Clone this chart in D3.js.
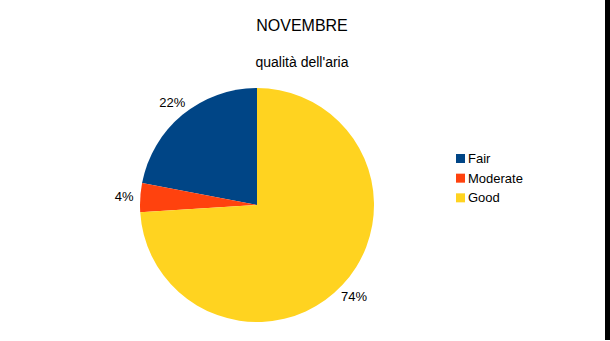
<!DOCTYPE html>
<html>
<head>
<meta charset="utf-8">
<script src="https://cdn.jsdelivr.net/npm/d3@7"></script>
<style>
  body { margin: 0; background: #fff; }
  text { font-family: "Liberation Sans", Arial, sans-serif; fill: #000; }
</style>
</head>
<body>
<script>
var categories = ["Fair", "Moderate", "Good"];
var values = [22, 4, 74];
var colors = ["#004586", "#ff420e", "#ffd320"];

var width = 610;
var height = 341;

var svg = d3.select("body")
	.append("svg")
	.attr("width", width)
	.attr("height", height);

svg.append("rect")
	.attr("width", width)
	.attr("height", height)
	.attr("fill", "#fff");

// black strip on the right edge
svg.append("rect")
	.attr("x", 605)
	.attr("y", 0)
	.attr("width", 5)
	.attr("height", 340)
	.attr("fill", "#000");

svg.append("text")
	.attr("x", 302)
	.attr("y", 31)
	.attr("text-anchor", "middle")
	.style("font-size", "16px")
	.text("NOVEMBRE");

svg.append("text")
	.attr("x", 302)
	.attr("y", 67)
	.attr("text-anchor", "middle")
	.style("font-size", "14px")
	.text("qualità dell'aria");

var cx = 257, cy = 205, r = 117;

// counterclockwise from 12 o'clock
var pie = d3.pie().sort(null).startAngle(0).endAngle(-2 * Math.PI);
var arcs = pie(values);
var arc = d3.arc().innerRadius(0).outerRadius(r);
var labelArc = d3.arc().innerRadius(133).outerRadius(133);

var g = svg.append("g").attr("transform", "translate(" + cx + "," + cy + ")");

g.selectAll("path")
	.data(arcs)
	.enter()
	.append("path")
	.attr("d", arc)
	.attr("fill", function (d, i) { return colors[i]; });

g.selectAll("text.lbl")
	.data(arcs)
	.enter()
	.append("text")
	.attr("class", "lbl")
	.attr("transform", function (d) { return "translate(" + labelArc.centroid(d) + ")"; })
	.attr("text-anchor", "middle")
	.attr("dy", "0.35em")
	.style("font-size", "13px")
	.text(function (d) { return d.data + "%"; });

var legend = svg.append("g").attr("transform", "translate(456,152)");
var row = d3.scaleBand().domain(categories).range([0, 59]);

legend.selectAll("rect")
	.data(categories)
	.enter()
	.append("rect")
	.attr("x", 0)
	.attr("y", function (d) { return row(d) + 2; })
	.attr("width", 9)
	.attr("height", 9)
	.attr("fill", function (d, i) { return colors[i]; });

legend.selectAll("text")
	.data(categories)
	.enter()
	.append("text")
	.attr("x", 12)
	.attr("y", function (d) { return row(d) + 11; })
	.style("font-size", "13px")
	.text(function (d) { return d; });
</script>
</body>
</html>
